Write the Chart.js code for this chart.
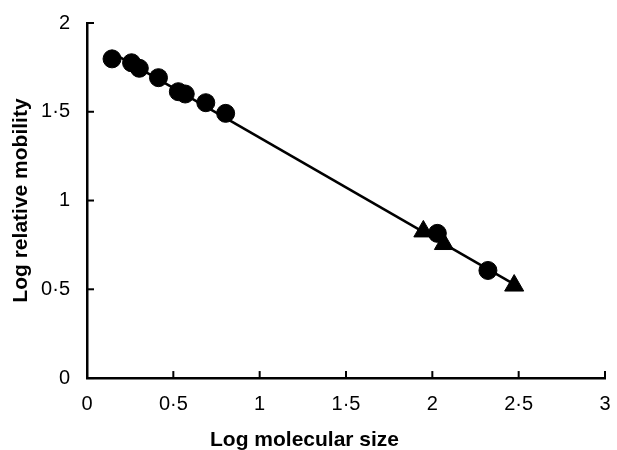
<!DOCTYPE html>
<html>
<head>
<meta charset="utf-8">
<script src="https://cdn.jsdelivr.net/npm/chart.js@4/dist/chart.umd.min.js"></script>
<style>
  html, body { margin: 0; padding: 0; background: #fff; }
  #wrap { width: 617px; height: 450px; }
</style>
</head>
<body>
<div id="wrap"><canvas id="c" width="617" height="450"></canvas></div>
<script>
// Data
const circleX = [0.145, 0.258, 0.303, 0.414, 0.529, 0.569, 0.688, 0.803, 2.029, 2.322];
const circleY = [1.798, 1.776, 1.745, 1.692, 1.613, 1.600, 1.551, 1.491, 0.815, 0.606];
const triangleX = [1.948, 2.067, 2.474];
const triangleY = [0.826, 0.755, 0.521];
const fitX = [0.15, 2.475];
const fitY = [1.830, 0.528];
const xTickLabels = ['0', '0·5', '1', '1·5', '2', '2·5', '3'];
const yTickLabels = ['0', '0·5', '1', '1·5', '2'];

const toPts = (xs, ys) => xs.map((x, i) => ({ x: x, y: ys[i] }));

const inwardTicks = {
  id: 'inwardTicks',
  afterDraw(chart) {
    const ctx = chart.ctx;
    const xs = chart.scales.x, ys = chart.scales.y;
    const len = 7;
    ctx.save();
    ctx.strokeStyle = '#000';
    ctx.lineWidth = 2;
    xs.ticks.forEach(t => {
      const px = xs.getPixelForValue(t.value);
      ctx.beginPath();
      ctx.moveTo(px, xs.top);
      ctx.lineTo(px, xs.top - len);
      ctx.stroke();
    });
    ys.ticks.forEach(t => {
      const py = ys.getPixelForValue(t.value);
      ctx.beginPath();
      ctx.moveTo(ys.right, py);
      ctx.lineTo(ys.right + len, py);
      ctx.stroke();
    });
    ctx.restore();
  }
};

new Chart(document.getElementById('c'), {
  type: 'scatter',
  data: {
    datasets: [
      {
        type: 'line',
        data: toPts(fitX, fitY),
        borderColor: '#000',
        borderWidth: 2.5,
        pointRadius: 0,
        fill: false,
        order: 3
      },
      {
        data: toPts(circleX, circleY),
        pointStyle: 'circle',
        pointRadius: 9,
        pointBorderWidth: 1,
        backgroundColor: '#000',
        borderColor: '#000',
        order: 1
      },
      {
        data: toPts(triangleX, triangleY),
        pointStyle: 'triangle',
        pointRadius: 11,
        pointBorderWidth: 1,
        backgroundColor: '#000',
        borderColor: '#000',
        order: 2
      }
    ]
  },
  options: {
    responsive: false,
    animation: false,
    layout: { padding: { left: 0, right: 8, top: 23, bottom: 0 } },
    plugins: {
      legend: { display: false },
      tooltip: { enabled: false },
      title: {
        display: true,
        position: 'bottom',
        text: 'Log molecular size',
        color: '#000',
        font: { family: '"Liberation Sans", Arial, sans-serif', size: 21, weight: 'bold', lineHeight: 0.95 },
        padding: { top: 0, bottom: 0 }
      }
    },
    scales: {
      x: {
        type: 'linear',
        min: 0, max: 3,
        grid: { display: false },
        border: { display: true, color: '#000', width: 2.5 },
        ticks: {
          stepSize: 0.5,
          padding: 6,
          color: '#000',
          font: { family: '"Liberation Sans", Arial, sans-serif', size: 20 },
          maxRotation: 0,
          callback: (v, i) => xTickLabels[i]
        },
        afterFit: s => { s.height = 52; }
      },
      y: {
        type: 'linear',
        min: 0, max: 2,
        grid: { display: false },
        border: { display: true, color: '#000', width: 2.5 },
        ticks: {
          stepSize: 0.5,
          padding: 9,
          color: '#000',
          font: { family: '"Liberation Sans", Arial, sans-serif', size: 20 },
          callback: (v, i) => yTickLabels[i]
        },
        title: {
          display: true,
          text: 'Log relative mobility',
          color: '#000',
          font: { family: '"Liberation Sans", Arial, sans-serif', size: 21, weight: 'bold', lineHeight: 1.2 },
          padding: { top: 9, bottom: 0 }
        },
        afterFit: s => { s.width = 87; }
      }
    }
  },
  plugins: [inwardTicks]
});
</script>
</body>
</html>
